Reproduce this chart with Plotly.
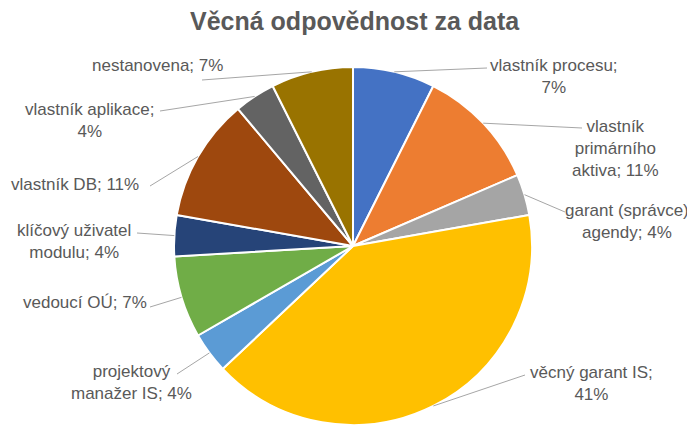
import math
import plotly.graph_objects as go

# ---- data ----
categories = [
    "vlastník procesu", "vlastník primárního aktiva", "garant (správce) agendy",
    "věcný garant IS", "projektový manažer IS", "vedoucí OÚ",
    "klíčový uživatel modulu", "vlastník DB", "vlastník aplikace", "nestanovena",
]
counts = [2, 3, 1, 11, 1, 2, 1, 3, 1, 2]
colors = ["#4472C4", "#ED7D31", "#A5A5A5", "#FFC000", "#5B9BD5",
          "#70AD47", "#264478", "#9E480E", "#636363", "#997300"]
# label templates (line breaks as in the reference)
label_fmt = [
    "vlastník procesu;<br>{p}%",
    "vlastník<br>primárního<br>aktiva; {p}%",
    "garant (správce)<br>agendy; {p}%",
    "věcný garant IS;<br>{p}%",
    "projektový<br>manažer IS; {p}%",
    "vedoucí OÚ; {p}%",
    "klíčový uživatel<br>modulu; {p}%",
    "vlastník DB; {p}%",
    "vlastník aplikace;<br>{p}%",
    "nestanovena; {p}%",
]
title_text = "Věcná odpovědnost za data"

# ---- layout constants (page pixels) ----
PW, PH = 695, 425          # browser window
OFF = 8                    # default body margin of the html page
W, H = PW - OFF, PH - OFF  # figure size
CX, R = 353, 179
CY = PH - R
label_pos = [(554, 76), (615, 148), (627, 221), (591, 383), (131, 382),
             (85, 302), (74, 241), (75, 184), (89, 120), (157, 65)]
attach_pos = [(487, 68), (582, 128), (565, 212), (525, 375), (177, 374),
              (150, 307), (137, 233), (150, 186), (160, 111), (202, 80)]

def px(x):
    return (x - OFF) / W

def py(y):
    return 1 - (y - OFF) / H

TEXT = "#595959"
FONT = "Liberation Sans, Arial, sans-serif"

fig = go.Figure(go.Pie(
    labels=categories, values=counts, sort=False, direction="clockwise",
    rotation=0, textinfo="none", showlegend=False,
    marker=dict(colors=colors, line=dict(color="white", width=2)),
    domain=dict(x=[px(CX - R), px(CX + R)], y=[0, 2 * R / H]),
))

total = sum(counts)
annotations = []
shapes = []
cum = 0
for i, c in enumerate(counts):
    mid = (cum + c / 2) / total
    cum += c
    ang = 2 * math.pi * mid
    ex = CX + R * math.sin(ang)
    ey = CY - R * math.cos(ang)
    p = round(100 * c / total)
    lx, ly = label_pos[i]
    annotations.append(dict(
        x=px(lx), y=py(ly), xref="paper", yref="paper",
        text=label_fmt[i].format(p=p), showarrow=False,
        xanchor="center", yanchor="middle", align="center",
        font=dict(family=FONT, size=17, color=TEXT),
    ))
    ax, ay = attach_pos[i]
    shapes.append(dict(
        type="line", xref="paper", yref="paper",
        x0=px(ax), y0=py(ay), x1=px(ex), y1=py(ey),
        line=dict(color="#A6A6A6", width=1),
    ))

annotations.append(dict(
    x=px(355), y=py(21), xref="paper", yref="paper", text="<b>" + title_text + "</b>",
    showarrow=False, xanchor="center", yanchor="middle",
    font=dict(family=FONT, size=25, color=TEXT),
))

fig.update_layout(
    width=W, height=H, margin=dict(l=0, r=0, t=0, b=0),
    paper_bgcolor="white", plot_bgcolor="white",
    annotations=annotations, shapes=shapes,
)

fig.write_html("out.html")
